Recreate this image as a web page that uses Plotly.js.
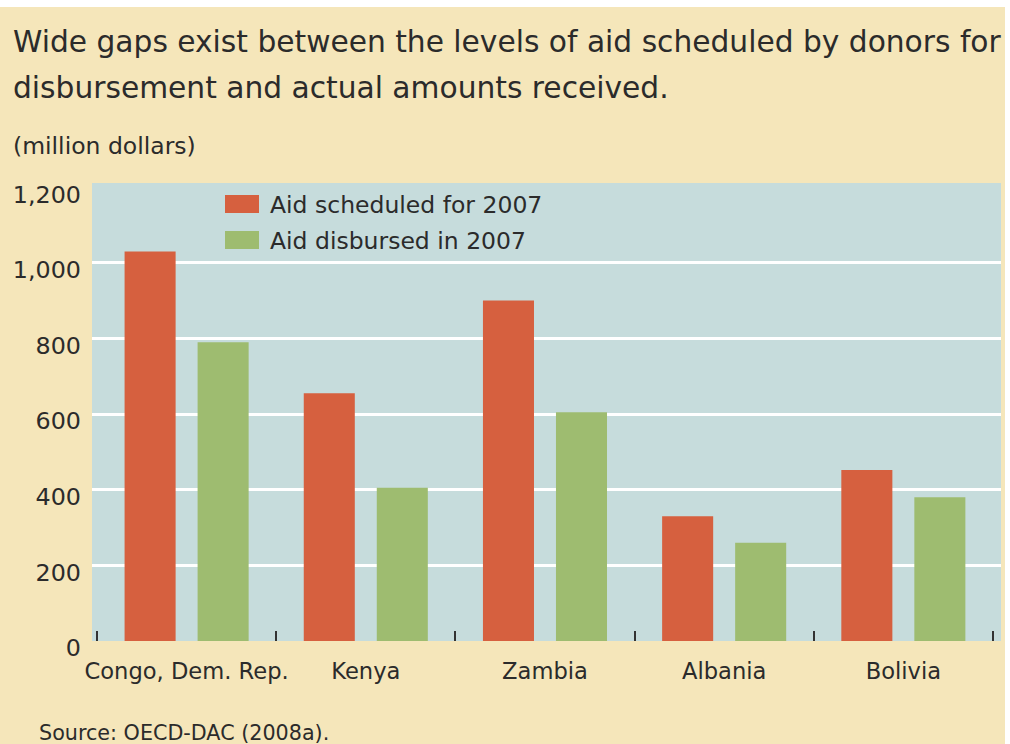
<!DOCTYPE html>
<html>
<head>
<meta charset="utf-8">
<script src="https://cdn.plot.ly/plotly-3.0.1.min.js"></script>
<style>
  html, body { margin: 0; padding: 0; background: #ffffff; }
  #chart { width: 1005px; height: 737px; margin-top: 7px; }
</style>
</head>
<body>
<div id="chart"></div>
<script>
// ---- data ----
const countries = ["Congo, Dem. Rep.", "Kenya", "Zambia", "Albania", "Bolivia"];
const aidScheduled = [1030, 655, 900, 330, 452];
const aidDisbursed = [790, 405, 605, 260, 380];
const seriesNames = ["Aid scheduled for 2007", "Aid disbursed in 2007"];
const yTickVals = [0, 200, 400, 600, 800, 1000, 1200];
const yTickText = ["0", "200", "400", "600", "800", "1,000", "1,200"];
const yGridVals = [200, 400, 600, 800, 1000];
const titleLines = ["Wide gaps exist between the levels of aid scheduled by donors for",
                    "disbursement and actual amounts received."];
const unitLabel = "(million dollars)";
const sourceText = "Source: OECD-DAC (2008a).";

// ---- style ----
const RED = "#D6603F", GREEN = "#9EBC70";
const BEIGE = "#F5E6BA", PLOTBG = "#C6DCDC", TXT = "#2b2b2b";
const FONT = "DejaVu Sans, Verdana, sans-serif";

// pixel -> paper helpers (image coords; plot area x 92..1001, y 183..641)
const PL = 92, PR = 1001, PT = 183, PB = 641;
const px = x => (x - PL) / (PR - PL);
const py = y => (PB - y) / (PB - PT);
const Y_RANGE = [0, 1211];

const traces = [
  { type: "bar", name: seriesNames[0], x: countries, y: aidScheduled,
    marker: { color: RED }, showlegend: false, hoverinfo: "x+y+name" },
  { type: "bar", name: seriesNames[1], x: countries, y: aidDisbursed,
    marker: { color: GREEN }, showlegend: false, hoverinfo: "x+y+name" },
  // empty helper trace so that the label axis (y2) is drawn
  { type: "scatter", mode: "markers", x: [countries[0]], y: [null], yaxis: "y2",
    showlegend: false, hoverinfo: "skip", marker: { opacity: 0 } }
];

const annotations = [
  { text: titleLines[0], x: px(11), y: py(41), size: 29.7 },
  { text: titleLines[1], x: px(11), y: py(88), size: 29.7 },
  { text: unitLabel, x: px(11), y: py(146), size: 23.5 },
  { text: sourceText, x: px(37), y: py(733), size: 20.7 },
  { text: seriesNames[0], x: px(268), y: py(205), size: 23.5 },
  { text: seriesNames[1], x: px(268), y: py(241), size: 23.5 }
].map(a => ({
  text: a.text, xref: "paper", yref: "paper", x: a.x, y: a.y,
  xanchor: "left", yanchor: "middle", showarrow: false,
  font: { family: FONT, size: a.size, color: TXT }
}));

const shapes = [
  { type: "rect", xref: "paper", yref: "paper", x0: px(225), x1: px(259), y0: py(213), y1: py(195),
    fillcolor: RED, line: { width: 0 } },
  { type: "rect", xref: "paper", yref: "paper", x0: px(225), x1: px(259), y0: py(249), y1: py(231),
    fillcolor: GREEN, line: { width: 0 } }
];

const layout = {
  width: 1005, height: 737,
  margin: { l: PL, r: 1005 - PR, t: PT - 7, b: 737 - (PB - 7), pad: 0 },
  paper_bgcolor: BEIGE,
  plot_bgcolor: PLOTBG,
  font: { family: FONT, color: TXT },
  barmode: "group",
  bargap: 0.185,
  bargroupgap: 0.301,
  showlegend: false,
  xaxis: {
    type: "category",
    range: [-0.528, 4.545],
    showgrid: false,
    zeroline: false,
    showline: false,
    ticks: "inside",
    tickson: "boundaries",
    ticklen: 10,
    tickwidth: 2,
    tickcolor: "#333333",
    tickangle: 0,
    tickfont: { family: FONT, size: 22.6, color: TXT },
    ticklabelstandoff: 14,
    fixedrange: true
  },
  yaxis: {
    range: Y_RANGE,
    tickmode: "array",
    tickvals: yGridVals,
    showticklabels: false,
    showgrid: true,
    gridcolor: "#FFFFFF",
    gridwidth: 3,
    zeroline: false,
    showline: false,
    ticks: "",
    fixedrange: true
  },
  yaxis2: {
    overlaying: "y",
    side: "left",
    anchor: "x",
    range: Y_RANGE,
    tickmode: "array",
    tickvals: yTickVals,
    ticktext: yTickText,
    showgrid: false,
    zeroline: false,
    showline: false,
    ticks: "",
    tickfont: { family: FONT, size: 23.8, color: TXT },
    ticklabelstandoff: 10,
    ticklabelshift: 7,
    fixedrange: true
  },
  annotations: annotations,
  shapes: shapes
};

Plotly.newPlot("chart", traces, layout, { displayModeBar: false, staticPlot: true });
</script>
</body>
</html>
